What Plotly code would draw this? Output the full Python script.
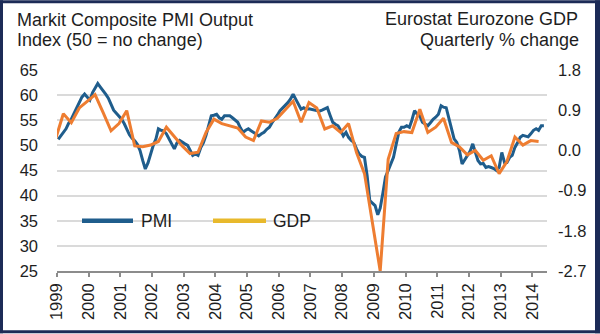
import pandas as pd
import plotly.graph_objects as go

# Markit Eurozone Composite PMI Output Index, monthly from Jan 1999 to May 2014
pmi = [
    # 1999
    51.2, 52.0, 52.5, 53.3, 54.4, 55.2, 56.3, 57.5, 58.5, 59.6, 60.2, 59.5,
    # 2000
    59.0, 60.5, 61.5, 62.3, 61.6, 61.0, 60.2, 59.4, 58.3, 57.0, 56.4, 55.8,
    # 2001
    55.2, 54.3, 53.3, 52.1, 51.4, 50.9, 50.2, 49.0, 47.0, 45.3, 46.5, 48.5,
    # 2002
    50.0, 51.3, 53.3, 53.0, 52.9, 52.3, 51.2, 50.3, 49.3, 50.5, 51.0, 50.6,
    # 2003
    50.3, 50.0, 49.0, 48.0, 48.3, 48.0, 49.5, 50.5, 52.0, 54.0, 55.9, 56.0,
    # 2004
    56.2, 55.5, 55.2, 55.9, 55.9, 55.9, 55.5, 55.0, 54.6, 53.5, 52.6, 53.0,
    # 2005
    53.3, 52.9, 52.6, 52.2, 51.9, 52.3, 52.6, 53.2, 53.6, 54.5, 55.2, 56.0,
    # 2006
    56.9, 57.4, 58.0, 58.5, 59.2, 60.2, 59.2, 58.2, 57.2, 57.5, 57.2, 57.3,
    # 2007
    57.2, 57.0, 56.9, 56.8, 57.0, 57.2, 57.5, 56.0, 54.6, 54.2, 53.9, 53.0,
    # 2008
    51.9, 52.6, 51.6, 51.0, 50.6, 49.3, 48.3, 47.8, 47.6, 44.0, 39.0, 38.5,
    # 2009
    38.0, 36.2, 37.5, 40.5, 43.7, 45.0, 46.5, 47.6, 50.2, 52.6, 53.6, 53.6,
    # 2010
    53.9, 53.6, 55.0, 56.9, 56.2, 55.8, 54.6, 54.2, 53.9, 54.5, 55.2, 55.6,
    # 2011
    56.2, 57.9, 57.6, 57.5, 55.6, 53.3, 51.3, 50.6, 49.0, 46.3, 47.2, 48.0,
    # 2012
    48.8, 50.3, 48.6, 47.0, 46.3, 46.4, 45.6, 45.8, 45.6, 45.4, 45.0, 45.6,
    # 2013
    48.6, 46.6, 46.6, 47.6, 48.0, 49.6, 50.5, 51.6, 52.0, 51.9, 51.7, 52.3,
    # 2014
    53.0, 53.3, 53.0, 53.9, 53.9,
]

# Eurostat Eurozone GDP, quarterly % change, from 1998 Q4 to 2014 Q1
gdp = [
    0.25,
    0.82, 0.62, 0.95, 1.10,    # 1999
    1.25, 0.85, 0.44, 0.60,    # 2000
    0.89, 0.10, 0.08, 0.12,    # 2001
    0.20, 0.52, 0.30, 0.10,    # 2002
    -0.07, -0.04, 0.40, 0.70,  # 2003
    0.60, 0.55, 0.50, 0.30,    # 2004
    0.22, 0.66, 0.63, 0.72,    # 2005
    0.92, 1.10, 0.63, 1.07,    # 2006
    0.95, 0.48, 0.55, 0.40,    # 2007
    0.60, -0.05, -0.52, -1.60, # 2008
    -2.70, -0.20, 0.38, 0.42,  # 2009
    0.40, 0.92, 0.40, 0.52,    # 2010
    0.72, 0.18, 0.08, -0.10,   # 2011
    0.00, -0.22, -0.12, -0.52, # 2012
    -0.25, 0.30, 0.12, 0.22,   # 2013
    0.20,                      # 2014
]

years = list(range(1999, 2015))
left_ticks = [25, 30, 35, 40, 45, 50, 55, 60, 65]
right_ticks = [-2.7, -1.8, -0.9, 0.0, 0.9, 1.8]
right_labels = ["-2.7", "-1.8", "-0.9", "0.0", "0.9", "1.8"]

pmi_dates = pd.date_range("1999-01-15", periods=len(pmi), freq=pd.DateOffset(months=1))
gdp_dates = pd.date_range("1998-12-15", periods=len(gdp), freq=pd.DateOffset(months=3))

BLUE = "#1f5d8c"
ORANGE = "#ee7d31"
YELLOW = "#e8b92c"
NAVY = "#1c2b57"
TEXT = "#1e1e1e"
FONT = "Liberation Sans, Arial, sans-serif"

# figure geometry (pixels)
FW, FH = 600, 334
ML, MR, MT, MB = 57, 53, 70, 62.5
PW, PH = FW - ML - MR, FH - MT - MB


def px(x):
    return (x - ML) / PW


def py(y):
    return (FH - MB - y) / PH


fig = go.Figure()
fig.add_trace(go.Scatter(x=pmi_dates, y=pmi, mode="lines", name="PMI",
                         line=dict(color=BLUE, width=3), showlegend=False))
fig.add_trace(go.Scatter(x=gdp_dates, y=gdp, mode="lines", name="GDP", yaxis="y2",
                         line=dict(color=ORANGE, width=3), showlegend=False))

shapes = []
# legend panel
shapes.append(dict(type="rect", xref="paper", yref="paper", x0=px(77), x1=px(313),
                   y0=py(231), y1=py(211), fillcolor="white", line=dict(width=0),
                   layer="between"))
shapes.append(dict(type="line", xref="paper", yref="paper", x0=px(82), x1=px(133),
                   y0=py(221), y1=py(221), line=dict(color=BLUE, width=4.5)))
shapes.append(dict(type="line", xref="paper", yref="paper", x0=px(213), x1=px(266),
                   y0=py(221), y1=py(221), line=dict(color=YELLOW, width=4.5)))
# outer frame
for x0, x1, y0, y1 in [(0, FW, 0, 3), (0, FW, FH - 3, FH), (0, 3, 0, FH), (FW - 5, FW, 0, FH)]:
    shapes.append(dict(type="rect", xref="paper", yref="paper", x0=px(x0), x1=px(x1),
                       y0=py(y1), y1=py(y0), fillcolor=NAVY, line=dict(width=0),
                       layer="above"))

annotations = [
    dict(text="PMI", x=px(139), y=py(221), xanchor="left", yanchor="middle"),
    dict(text="GDP", x=px(271), y=py(221), xanchor="left", yanchor="middle"),
    dict(text="Markit Composite PMI Output", x=px(15), y=py(19.7), xanchor="left", yanchor="middle"),
    dict(text="Index (50 = no change)", x=px(15), y=py(40.2), xanchor="left", yanchor="middle"),
    dict(text="Eurostat Eurozone GDP", x=px(580), y=py(18.8), xanchor="right", yanchor="middle"),
    dict(text="Quarterly % change", x=px(581), y=py(40.0), xanchor="right", yanchor="middle"),
]
for a in annotations:
    a.update(xref="paper", yref="paper", showarrow=False,
             font=dict(family=FONT, size=18 if "PMI" != a["text"] and "GDP" != a["text"] else 17.5,
                       color=TEXT))

fig.update_layout(
    width=FW, height=FH, autosize=False,
    margin=dict(l=ML, r=MR, t=MT, b=MB, pad=0),
    paper_bgcolor="white", plot_bgcolor="white",
    font=dict(family=FONT, size=16.5, color=TEXT),
    showlegend=False,
    shapes=shapes,
    annotations=annotations,
    xaxis=dict(
        type="date", range=["1999-01-01", "2014-06-20"],
        tickvals=[f"{y}-01-01" for y in years], ticktext=[str(y) for y in years],
        tickangle=-90, ticks="outside", ticklen=4, tickwidth=1.5, tickcolor="#8c8c8c",
        showline=True, linecolor="#8c8c8c", linewidth=1.5,
        showgrid=False, zeroline=False, automargin=False,
        tickfont=dict(family=FONT, size=16.5, color=TEXT),
    ),
    yaxis=dict(
        range=[25, 65], tickvals=left_ticks,
        showgrid=True, gridcolor="#dadada", gridwidth=1.5,
        zeroline=False, showline=False, ticks="", automargin=False,
        ticklabelstandoff=18,
        tickfont=dict(family=FONT, size=16.5, color=TEXT),
    ),
    yaxis2=dict(
        range=[-2.7, 1.8], tickvals=right_ticks, ticktext=right_labels,
        overlaying="y", side="right",
        showgrid=False, zeroline=False, showline=False, ticks="", automargin=False,
        ticklabelstandoff=10,
        tickfont=dict(family=FONT, size=16.5, color=TEXT),
    ),
)

fig.write_html("out.html")
